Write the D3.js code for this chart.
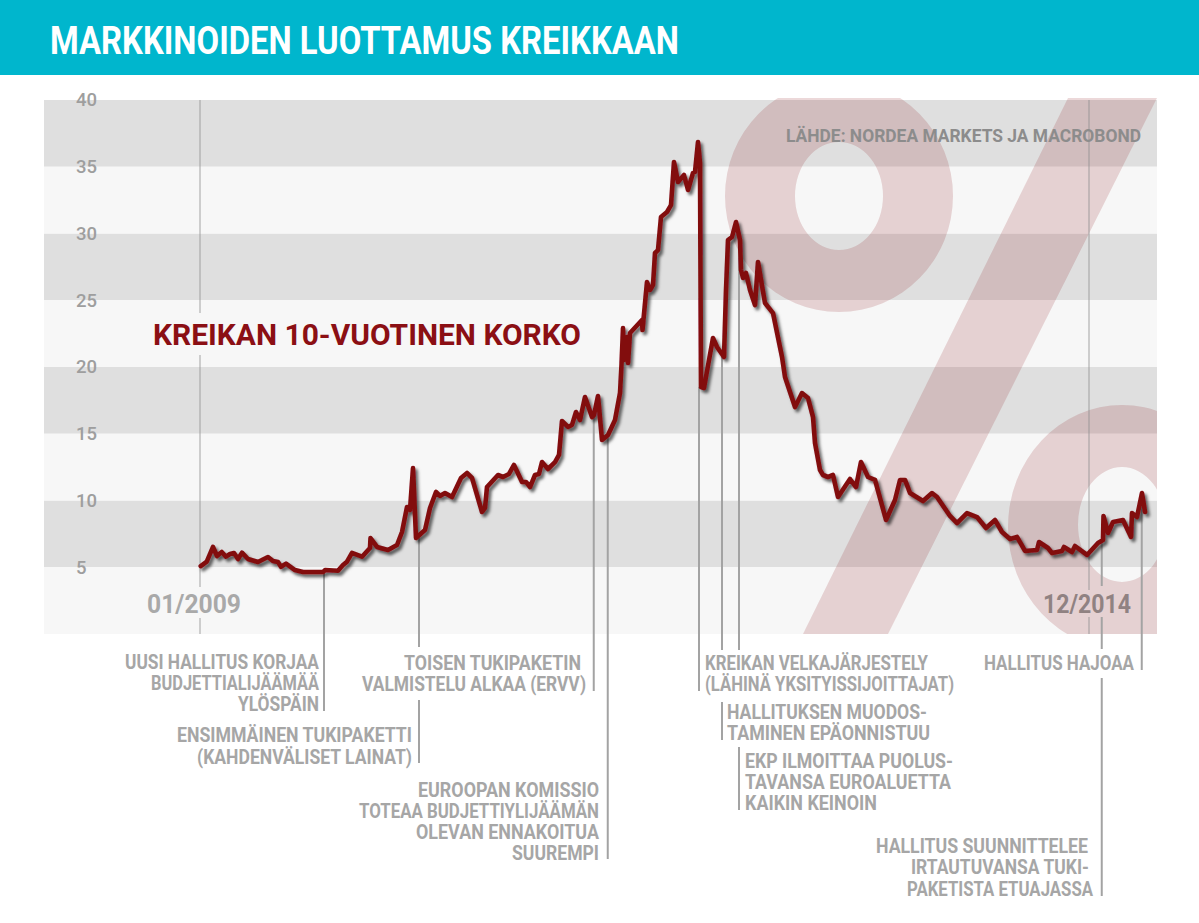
<!DOCTYPE html>
<html>
<head>
<meta charset="utf-8">
<title>Markkinoiden luottamus Kreikkaan</title>
<script src="https://d3js.org/d3.v7.min.js"></script>
<style>
	html, body { margin: 0; padding: 0; background: #fff; }
	svg { display: block; }
	text { font-family: Roboto, "Open Sans", sans-serif; font-weight: 700; }
	.axis text { font-size: 18.5px; font-weight: 500; fill: #9e9e9e; }
</style>
</head>
<body>
<div id="chartholder"></div>
<script>
/* Data: months since 01/2009 and the 10 year yield in percent */
const months = [0.06, 0.54, 1.04, 1.36, 1.74, 2.08, 2.4, 2.72, 3.04, 3.36, 3.84, 4.64, 5.44, 5.84, 6.24, 6.48, 6.88, 7.6, 8.24, 9.84, 10, 11.04, 11.44, 11.76, 12.16, 12.96, 13.6, 13.64, 14.16, 15.04, 15.76, 16.16, 16.56, 16.8, 17.04, 17.28, 18, 18.4, 18.88, 19.2, 19.6, 20.16, 20.88, 21.36, 21.76, 22.56, 22.8, 22.96, 23.84, 24.24, 24.72, 25.12, 25.76, 26.08, 26.4, 26.8, 27.12, 27.36, 27.84, 28.4, 28.72, 28.96, 29.44, 29.76, 30.08, 30.4, 30.8, 31.36, 31.52, 31.84, 32.16, 32.64, 33.2, 33.6, 33.72, 33.84, 33.92, 34.16, 34.24, 34.4, 35.36, 35.4, 35.76, 36, 36.24, 36.4, 36.64, 36.88, 37.36, 37.68, 37.92, 38.24, 38.72, 39.04, 39.44, 39.6, 39.84, 40, 40.08, 40.32, 41.04, 41.36, 41.92, 42.08, 42.24, 42.56, 42.88, 43.2, 43.28, 43.44, 43.68, 44, 44.4, 44.64, 44.88, 45.2, 45.84, 46.56, 46.8, 47.6, 48.16, 48.64, 49.04, 49.2, 49.6, 49.84, 50.24, 50.64, 51.04, 52, 52.48, 52.88, 53.44, 54, 54.88, 55.6, 56, 56.4, 56.8, 57.84, 58.56, 58.96, 60, 60.56, 61.36, 62.16, 62.88, 63.6, 64.16, 64.8, 65.36, 66, 66.96, 67.12, 67.84, 68.16, 68.96, 69.12, 69.76, 70, 70.96, 71.84, 72.24, 72.28, 72.64, 73.04, 73.84, 74.48, 74.56, 74.96, 75.36, 75.6];
const yields = [5.09, 5.42, 6.52, 5.84, 6.14, 5.79, 5.99, 6.07, 5.62, 6.09, 5.62, 5.39, 5.77, 5.47, 5.39, 5.04, 5.27, 4.79, 4.64, 4.64, 4.79, 4.74, 5.17, 5.42, 6.07, 5.79, 6.44, 7.19, 6.52, 6.29, 6.67, 7.64, 9.51, 9.29, 12.43, 7.19, 7.79, 9.44, 10.64, 10.34, 10.56, 10.26, 11.69, 12.06, 11.69, 9.14, 9.44, 11.01, 11.91, 11.76, 11.99, 12.66, 11.39, 11.39, 11.01, 11.91, 11.99, 12.88, 12.36, 12.88, 13.41, 15.96, 15.51, 15.66, 16.63, 16.03, 17.75, 16.25, 16.4, 17.83, 14.53, 14.91, 16.03, 18.05, 20.15, 22.92, 20.52, 22.25, 20.3, 22.55, 23.52, 22.77, 26.37, 25.77, 26.14, 28.54, 28.76, 31.24, 31.61, 32.13, 35.36, 33.86, 34.38, 33.26, 34.53, 34.61, 36.85, 35.28, 18.5, 18.43, 22.17, 21.5, 20.75, 25.77, 29.51, 29.74, 30.86, 29.51, 27.27, 26.67, 27.04, 25.77, 24.64, 27.87, 26.52, 24.79, 24.04, 20.75, 19.25, 17, 18.05, 17.68, 16.25, 14.31, 12.28, 11.91, 11.76, 11.91, 10.26, 11.61, 11.01, 12.88, 11.76, 11.54, 8.54, 10.04, 11.54, 11.54, 10.56, 9.96, 10.56, 10.26, 8.84, 8.31, 9.06, 8.76, 7.94, 8.54, 7.64, 7.12, 7.27, 6.22, 6.29, 6.89, 6.44, 6.07, 6.22, 6.52, 6.14, 6.59, 5.92, 6.82, 7.04, 8.84, 7.57, 8.39, 8.54, 7.27, 9.06, 8.76, 10.56, 9.14];

const yTicks = [5, 10, 15, 20, 25, 30, 35, 40];
const darkBands = [[35, 40], [25, 30], [15, 20], [5, 10]];
const lightBands = [[30, 35], [20, 25], [10, 15], [0, 5]];
const dateMarks = [0, 71.12];
const dateLabels = ["01/2009", "12/2014"];
const eventMonths = [9.92, 17.52, 31.5, 32.62, 39.92, 41.76, 43.12, 72.14, 75.34];
const eventYields = [4.64, 7.19, 16.25, 14.76, 18.5, 20.75, 29.51, 7.04, 10.41];

const titleText = "MARKKINOIDEN LUOTTAMUS KREIKKAAN";
const seriesLabel = "KREIKAN 10-VUOTINEN KORKO";
const sourceText = "LÄHDE: NORDEA MARKETS JA MACROBOND";

/* Layout of the gridlines: visible stretches in px, the labels cut them */
const gridLayout = [
	[[100, 313], [355, 587], [618, 634]],
	[[100, 590], [617, 634]]
];

/* Layout of the leader lines: the first part starts from the curve, in px */
const leaderLayout = [
	[[711]],
	[[647], [700, 763]],
	[[691]],
	[[859]],
	[[691]],
	[[650], [702, 740]],
	[[650], [747, 810]],
	[[586], [617, 649], [678, 896]],
	[[670]]
];

/* Layout of the notes: text, left edge, right edge, baseline */
const noteLayout = [
	["UUSI HALLITUS KORJAA", 125, 319, 669],
	["BUDJETTIALIJÄÄMÄÄ", 151, 319, 690],
	["YLÖSPÄIN", 238, 319, 711],
	["ENSIMMÄINEN TUKIPAKETTI", 177, 412, 742],
	["(KAHDENVÄLISET LAINAT)", 197, 412, 763.5],
	["TOISEN TUKIPAKETIN", 404, 581, 670],
	["VALMISTELU ALKAA (ERVV)", 362, 586, 691],
	["EUROOPAN KOMISSIO", 418, 599, 797],
	["TOTEAA BUDJETTIYLIJÄÄMÄN", 359, 599, 818],
	["OLEVAN ENNAKOITUA", 416, 599, 839],
	["SUUREMPI", 512, 599, 860],
	["KREIKAN VELKAJÄRJESTELY", 705, 928, 670],
	["(LÄHINÄ YKSITYISSIJOITTAJAT)", 705, 954, 691],
	["HALLITUKSEN MUODOS-", 727, 927, 719],
	["TAMINEN EPÄONNISTUU", 727, 930, 740],
	["EKP ILMOITTAA PUOLUS-", 745, 953, 768],
	["TAVANSA EUROALUETTA", 745, 951, 789],
	["KAIKIN KEINOIN", 745, 877, 810],
	["HALLITUS HAJOAA", 984, 1134, 670],
	["HALLITUS SUUNNITTELEE", 876, 1088, 853],
	["IRTAUTUVANSA TUKI-", 911, 1089, 874],
	["PAKETISTA ETUAJASSA", 907, 1093, 896]
];

const width = 1199;
const height = 923;
const plotLeft = 44;
const plotRight = 1157;

const xScale = d3.scaleLinear().domain([0, 72]).range([200, 1100]);
const yScale = d3.scaleLinear().domain([0, 40]).range([634, 100]);

const svg = d3.select("#chartholder").append("svg")
	.attr("width", width)
	.attr("height", height);

const defs = svg.append("defs");

defs.append("clipPath").attr("id", "plotClip")
	.append("rect")
	.attr("x", plotLeft)
	.attr("y", 98)
	.attr("width", plotRight - plotLeft)
	.attr("height", 536);

const shadow = defs.append("filter").attr("id", "lineShadow")
	.attr("x", "-5%").attr("y", "-5%").attr("width", "110%").attr("height", "110%");
shadow.append("feDropShadow")
	.attr("dx", 2.5).attr("dy", 3).attr("stdDeviation", 1.8)
	.attr("flood-color", "#000").attr("flood-opacity", 0.6);

// Header banner
svg.append("rect")
	.attr("width", width)
	.attr("height", 75)
	.attr("fill", "#00b6cd");

addFitted(svg, titleText, 50, 679, 54, 39, "#fff");

// Background bands
svg.append("g").selectAll("rect")
	.data(darkBands.map(d => ({ band: d, fill: "#dfdfdf" }))
		.concat(lightBands.map(d => ({ band: d, fill: "#f7f7f7" }))))
	.join("rect")
	.attr("x", plotLeft)
	.attr("width", plotRight - plotLeft)
	.attr("y", d => yScale(d.band[1]))
	.attr("height", d => yScale(d.band[0]) - yScale(d.band[1]))
	.attr("fill", d => d.fill);

// Big percent sign behind the line
const percent = svg.append("g")
	.attr("clip-path", "url(#plotClip)")
	.attr("fill", "#8b0f14")
	.attr("fill-opacity", 0.16);

percent.append("path")
	.attr("fill-rule", "evenodd")
	.attr("d", ringPath(839, 196, 114, 116, 44, 54) + ringPath(1122, 527, 114, 122, 44, 57.5, 524.5));

percent.append("polygon")
	.attr("points", "1068,98 1157,98 888,634 803,634");

// Date gridlines
const grid = svg.append("g")
	.attr("stroke", "#8f8f8f")
	.attr("stroke-opacity", 0.4)
	.attr("stroke-width", 2);

dateMarks.forEach((month, i) => {
	gridLayout[i].forEach(part => {
		grid.append("line")
			.attr("x1", xScale(month))
			.attr("x2", xScale(month))
			.attr("y1", part[0])
			.attr("y2", part[1]);
	});
});

// Leader lines, drawn from the curve down to the notes
const leaders = svg.append("g")
	.attr("stroke", "#a3a3a3")
	.attr("stroke-width", 2);

eventMonths.forEach((month, i) => {
	const x = xScale(month);
	leaderLayout[i].forEach((part, j) => {
		leaders.append("line")
			.attr("x1", x)
			.attr("x2", x)
			.attr("y1", j === 0 ? yScale(eventYields[i]) : part[0])
			.attr("y2", part[part.length - 1]);
	});
});

// Yield axis, the labels are left aligned
const yAxis = d3.axisLeft(yScale).tickValues(yTicks).tickSize(0).tickPadding(0);
const axisGroup = svg.append("g")
	.attr("class", "axis")
	.attr("transform", "translate(76,0)")
	.call(yAxis);
axisGroup.select(".domain").remove();
axisGroup.selectAll("text")
	.attr("text-anchor", "start")
	.attr("x", 0);

// Date labels, the latter sits on the percent sign and looks darker
const dateEdges = [[147, 241], [1043, 1131]];
const dateColors = ["#a9a9a9", "#908282"];
dateLabels.forEach((label, i) => {
	addFitted(svg, label, dateEdges[i][0], dateEdges[i][1], 613, 26, dateColors[i]);
});

addFitted(svg, seriesLabel, 153, 581, 345, 30, "#8b0f14");

addFitted(svg, sourceText, 786, 1141, 142, 18.5, "#8c8c8c");

// The yield curve
const line = d3.line()
	.x((d, i) => xScale(months[i]))
	.y(d => yScale(d));

svg.append("path")
	.datum(yields)
	.attr("d", line)
	.attr("fill", "none")
	.attr("stroke", "#820a10")
	.attr("stroke-width", 4.6)
	.attr("stroke-linejoin", "round")
	.attr("stroke-linecap", "round")
	.attr("filter", "url(#lineShadow)");

// Notes under the chart
noteLayout.forEach(d => {
	addFitted(svg, d[0], d[1], d[2], d[3], 19.5, "#a6a6a6");
});

/**
 * Adds a text squeezed to fit between two x positions.
 */
function addFitted(holder, label, left, right, baseline, size, color) {
	return holder.append("text")
		.attr("x", left)
		.attr("y", baseline)
		.attr("textLength", right - left)
		.attr("lengthAdjust", "spacingAndGlyphs")
		.attr("font-size", size)
		.attr("fill", color)
		.text(label);
}

/**
 * Path of an elliptic ring, filled with the evenodd rule.
 */
function ringPath(cx, cy, rx, ry, innerRx, innerRy, innerCy = cy) {
	const ellipse = (y, a, b) => `M${cx - a},${y}A${a},${b} 0 1 0 ${cx + a},${y}A${a},${b} 0 1 0 ${cx - a},${y}Z`;
	return ellipse(cy, rx, ry) + ellipse(innerCy, innerRx, innerRy);
}
</script>
</body>
</html>
